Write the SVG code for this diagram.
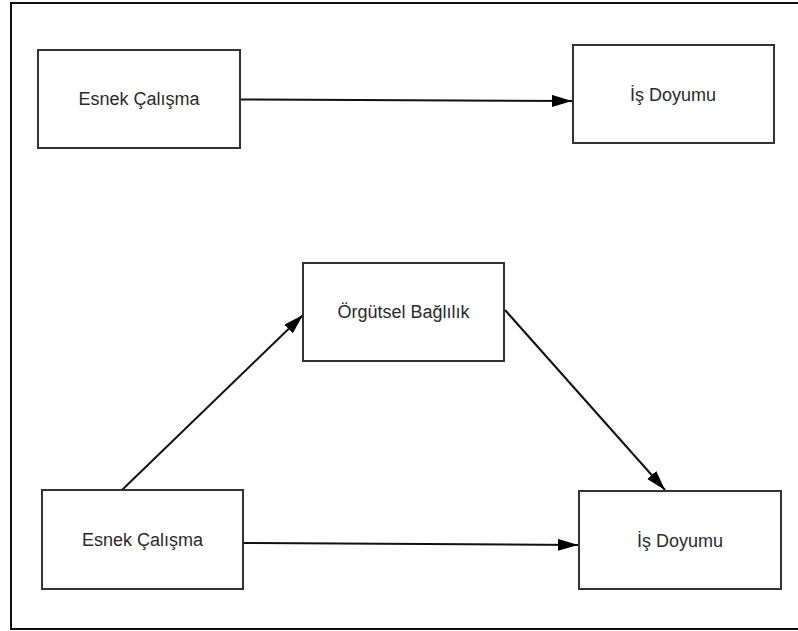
<svg xmlns="http://www.w3.org/2000/svg" width="798" height="631" viewBox="0 0 798 631">
<defs>
<style>
.box{fill:#fff;stroke:#333;stroke-width:2}
.lbl{font-family:"Liberation Sans",Arial,sans-serif;font-size:18px;fill:#2a2a2a;text-anchor:middle;dominant-baseline:central}
.edge{stroke:#111;stroke-width:2;fill:none;marker-end:url(#ah)}
</style>
<marker id="ah" markerUnits="userSpaceOnUse" markerWidth="22" markerHeight="14" refX="20" refY="6" orient="auto">
<path d="M0,0 L20,6 L0,12 Z" fill="#000"/>
</marker>
</defs>
<rect width="798" height="631" fill="#fff"/>
<rect x="11" y="3" width="790" height="626" fill="none" stroke="#111" stroke-width="2"/>
<g id="connectors">
<line class="edge" x1="240" y1="99.5" x2="572" y2="101"/>
<line class="edge" x1="243" y1="543" x2="578" y2="545"/>
<line class="edge" x1="122" y1="490" x2="303" y2="315"/>
<line class="edge" x1="505" y1="310" x2="665" y2="490"/>
</g>
<g id="n1"><rect class="box" x="38" y="50" width="202" height="98"/><text class="lbl" x="139" y="99">Esnek Çalışma</text></g>
<g id="n2"><rect class="box" x="573" y="45" width="201" height="98"/><text class="lbl" x="673" y="95">İş Doyumu</text></g>
<g id="n3"><rect class="box" x="303" y="263" width="201" height="98"/><text class="lbl" x="403.5" y="312">Örgütsel Bağlılık</text></g>
<g id="n4"><rect class="box" x="42" y="490" width="201" height="99"/><text class="lbl" x="142.5" y="540">Esnek Çalışma</text></g>
<g id="n5"><rect class="box" x="579" y="491" width="202" height="98"/><text class="lbl" x="680" y="541">İş Doyumu</text></g>
</svg>
